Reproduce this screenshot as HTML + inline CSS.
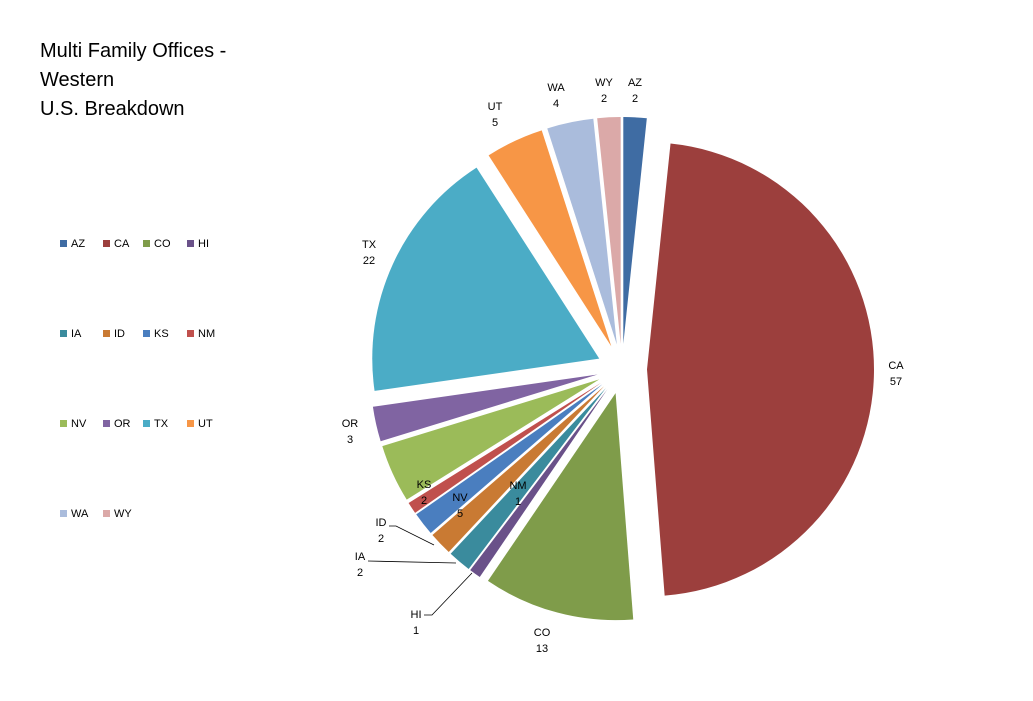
<!DOCTYPE html>
<html><head><meta charset="utf-8">
<style>
body{margin:0;background:#fff;width:1033px;height:701px;overflow:hidden;font-family:"Liberation Sans",sans-serif;}
.t{position:absolute;left:40px;top:37px;font-size:20px;line-height:29px;color:#000;}
.lg{position:absolute;font-size:11px;color:#000;}
.lg span{display:inline-block;width:7px;height:7px;margin-right:4px;}
svg{position:absolute;left:0;top:0;}
svg text{font-family:"Liberation Sans",sans-serif;font-size:11px;fill:#000;text-anchor:middle;}
</style></head><body>
<div class="t">Multi Family Offices -<br>Western<br>U.S. Breakdown</div>
<div id="leg"></div>
<svg id="s" width="1033" height="701"></svg>
<script>
var d=[["AZ",2,"#3f6ca3"],["CA",57,"#9c3f3d"],["CO",13,"#7f9c4a"],["HI",1,"#6a5189"],["IA",2,"#3a8b9d"],["ID",2,"#c97a33"],["KS",2,"#4a7ebf"],["NM",1,"#c0504d"],["NV",5,"#9bbb59"],["OR",3,"#8064a2"],["TX",22,"#4bacc6"],["UT",5,"#f79646"],["WA",4,"#aabcdc"],["WY",2,"#dba9a8"]];
var tot=121,cx=622,cy=369,r=227,ex=25,a=0,h="";
function P(t,rr,ox,oy){return [ox+rr*Math.sin(t),oy-rr*Math.cos(t)];}
d.forEach(function(e){var s=a/tot*2*Math.PI,t=(a+e[1])/tot*2*Math.PI,m=(s+t)/2;
var ox=cx+ex*Math.sin(m),oy=cy-ex*Math.cos(m);var p1=P(s,r,ox,oy),p2=P(t,r,ox,oy);
h+='<path d="M'+ox+' '+oy+'L'+p1[0]+' '+p1[1]+'A'+r+' '+r+' 0 '+((t-s)>Math.PI?1:0)+' 1 '+p2[0]+' '+p2[1]+'Z" fill="'+e[2]+'"/>';a+=e[1];});
var L=[["AZ",2,635,86],["WY",2,604,86],["WA",4,556,91],["UT",5,495,110],["TX",22,369,248],["CA",57,896,369],["OR",3,350,427],["KS",2,424,488],["NV",5,460,501],["NM",1,518,489],["ID",2,381,526],["IA",2,360,560],["HI",1,416,618],["CO",13,542,636]];
L.forEach(function(l){h+='<text x="'+l[2]+'" y="'+l[3]+'">'+l[0]+'</text><text x="'+l[2]+'" y="'+(l[3]+16)+'">'+l[1]+'</text>';});
h+='<polyline points="389,526 396,526 434,545" fill="none" stroke="#000" stroke-width="0.8"/>';
h+='<polyline points="368,561 456,563" fill="none" stroke="#000" stroke-width="0.8"/>';
h+='<polyline points="424,615 432,615 472,573" fill="none" stroke="#000" stroke-width="0.8"/>';
document.getElementById('s').innerHTML=h;
var g="",cols=[60,103,143,187],rows=[244,334,424,514];
d.forEach(function(e,i){g+='<div class="lg" style="left:'+cols[i%4]+'px;top:'+(rows[Math.floor(i/4)]-6)+'px"><span style="background:'+e[2]+'"></span>'+e[0]+'</div>';});
document.getElementById('leg').innerHTML=g;
</script>
</body></html>
